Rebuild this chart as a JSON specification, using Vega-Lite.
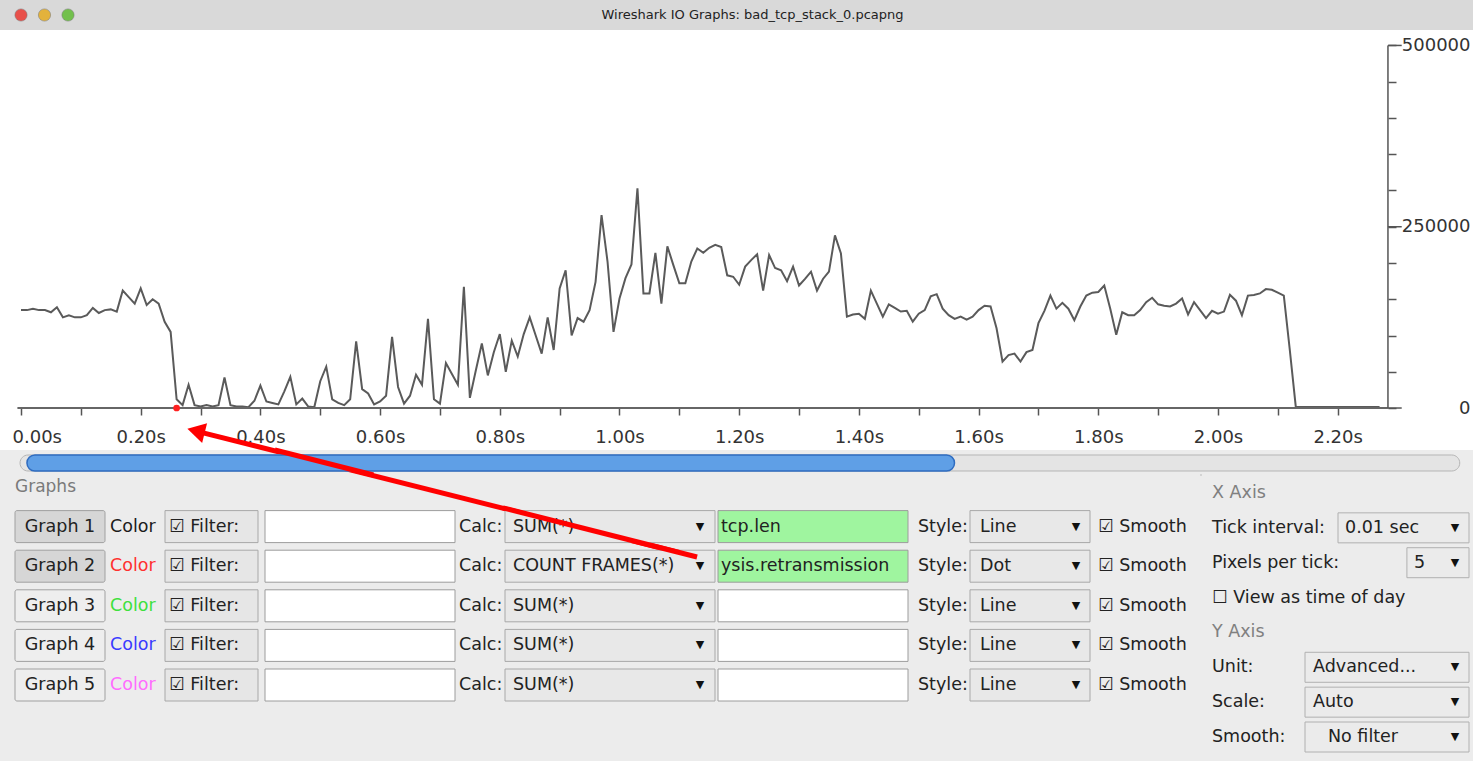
{
  "$schema": "https://vega.github.io/schema/vega-lite/v6.json",
  "background": "#ececec",
  "padding": 0,
  "bounds": "flush",
  "spacing": 0,
  "config": {"font": "DejaVu Sans", "view": {"stroke": null}},
  "datasets": {
    "io": [
      {"t":0.00,"bytes":135000},{"t":0.01,"bytes":135000},{"t":0.02,"bytes":137000},{"t":0.03,"bytes":135000},{"t":0.04,"bytes":135000},{"t":0.05,"bytes":132000},{"t":0.06,"bytes":139000},{"t":0.07,"bytes":125000},{"t":0.08,"bytes":128000},{"t":0.09,"bytes":125000},
      {"t":0.10,"bytes":125000},{"t":0.11,"bytes":128000},{"t":0.12,"bytes":138000},{"t":0.13,"bytes":131000},{"t":0.14,"bytes":135000},{"t":0.15,"bytes":136000},{"t":0.16,"bytes":133000},{"t":0.17,"bytes":162000},{"t":0.18,"bytes":153000},{"t":0.19,"bytes":144000},
      {"t":0.20,"bytes":165000},{"t":0.21,"bytes":142000},{"t":0.22,"bytes":150000},{"t":0.23,"bytes":144000},{"t":0.24,"bytes":119000},{"t":0.25,"bytes":105000},{"t":0.26,"bytes":12000},{"t":0.27,"bytes":4000},{"t":0.28,"bytes":32000},{"t":0.29,"bytes":4000},
      {"t":0.30,"bytes":2000},{"t":0.31,"bytes":4000},{"t":0.32,"bytes":2000},{"t":0.33,"bytes":4000},{"t":0.34,"bytes":42000},{"t":0.35,"bytes":4000},{"t":0.36,"bytes":2000},{"t":0.37,"bytes":2000},{"t":0.38,"bytes":1000},{"t":0.39,"bytes":10000},
      {"t":0.40,"bytes":31000},{"t":0.41,"bytes":9000},{"t":0.42,"bytes":7000},{"t":0.43,"bytes":5000},{"t":0.44,"bytes":23000},{"t":0.45,"bytes":43000},{"t":0.46,"bytes":5000},{"t":0.47,"bytes":13000},{"t":0.48,"bytes":2000},{"t":0.49,"bytes":1000},
      {"t":0.50,"bytes":37000},{"t":0.51,"bytes":57000},{"t":0.52,"bytes":12000},{"t":0.53,"bytes":7000},{"t":0.54,"bytes":4000},{"t":0.55,"bytes":12000},{"t":0.56,"bytes":92000},{"t":0.57,"bytes":26000},{"t":0.58,"bytes":20000},{"t":0.59,"bytes":5000},
      {"t":0.60,"bytes":9000},{"t":0.61,"bytes":17000},{"t":0.62,"bytes":98000},{"t":0.63,"bytes":29000},{"t":0.64,"bytes":6000},{"t":0.65,"bytes":17000},{"t":0.66,"bytes":46000},{"t":0.67,"bytes":32000},{"t":0.68,"bytes":123000},{"t":0.69,"bytes":12000},
      {"t":0.70,"bytes":6000},{"t":0.71,"bytes":62000},{"t":0.72,"bytes":47000},{"t":0.73,"bytes":32000},{"t":0.74,"bytes":167000},{"t":0.75,"bytes":14000},{"t":0.76,"bytes":52000},{"t":0.77,"bytes":89000},{"t":0.78,"bytes":45000},{"t":0.79,"bytes":77000},
      {"t":0.80,"bytes":102000},{"t":0.81,"bytes":50000},{"t":0.82,"bytes":93000},{"t":0.83,"bytes":71000},{"t":0.84,"bytes":102000},{"t":0.85,"bytes":125000},{"t":0.86,"bytes":100000},{"t":0.87,"bytes":75000},{"t":0.88,"bytes":125000},{"t":0.89,"bytes":80000},
      {"t":0.90,"bytes":165000},{"t":0.91,"bytes":190000},{"t":0.92,"bytes":100000},{"t":0.93,"bytes":124000},{"t":0.94,"bytes":119000},{"t":0.95,"bytes":135000},{"t":0.96,"bytes":174000},{"t":0.97,"bytes":266000},{"t":0.98,"bytes":202000},{"t":0.99,"bytes":105000},
      {"t":1.00,"bytes":151000},{"t":1.01,"bytes":179000},{"t":1.02,"bytes":198000},{"t":1.03,"bytes":303000},{"t":1.04,"bytes":158000},{"t":1.05,"bytes":158000},{"t":1.06,"bytes":214000},{"t":1.07,"bytes":144000},{"t":1.08,"bytes":223000},{"t":1.09,"bytes":197000},
      {"t":1.10,"bytes":172000},{"t":1.11,"bytes":172000},{"t":1.12,"bytes":202000},{"t":1.13,"bytes":220000},{"t":1.14,"bytes":214000},{"t":1.15,"bytes":221000},{"t":1.16,"bytes":225000},{"t":1.17,"bytes":222000},{"t":1.18,"bytes":183000},{"t":1.19,"bytes":181000},
      {"t":1.20,"bytes":170000},{"t":1.21,"bytes":195000},{"t":1.22,"bytes":204000},{"t":1.23,"bytes":212000},{"t":1.24,"bytes":162000},{"t":1.25,"bytes":211000},{"t":1.26,"bytes":193000},{"t":1.27,"bytes":190000},{"t":1.28,"bytes":175000},{"t":1.29,"bytes":195000},
      {"t":1.30,"bytes":169000},{"t":1.31,"bytes":178000},{"t":1.32,"bytes":188000},{"t":1.33,"bytes":162000},{"t":1.34,"bytes":178000},{"t":1.35,"bytes":188000},{"t":1.36,"bytes":238000},{"t":1.37,"bytes":213000},{"t":1.38,"bytes":126000},{"t":1.39,"bytes":129000},
      {"t":1.40,"bytes":130000},{"t":1.41,"bytes":123000},{"t":1.42,"bytes":162000},{"t":1.43,"bytes":144000},{"t":1.44,"bytes":126000},{"t":1.45,"bytes":143000},{"t":1.46,"bytes":138000},{"t":1.47,"bytes":133000},{"t":1.48,"bytes":134000},{"t":1.49,"bytes":119000},
      {"t":1.50,"bytes":130000},{"t":1.51,"bytes":135000},{"t":1.52,"bytes":154000},{"t":1.53,"bytes":157000},{"t":1.54,"bytes":137000},{"t":1.55,"bytes":128000},{"t":1.56,"bytes":123000},{"t":1.57,"bytes":126000},{"t":1.58,"bytes":122000},{"t":1.59,"bytes":126000},
      {"t":1.60,"bytes":135000},{"t":1.61,"bytes":141000},{"t":1.62,"bytes":140000},{"t":1.63,"bytes":110000},{"t":1.64,"bytes":64000},{"t":1.65,"bytes":73000},{"t":1.66,"bytes":75000},{"t":1.67,"bytes":64000},{"t":1.68,"bytes":77000},{"t":1.69,"bytes":80000},
      {"t":1.70,"bytes":117000},{"t":1.71,"bytes":134000},{"t":1.72,"bytes":155000},{"t":1.73,"bytes":137000},{"t":1.74,"bytes":145000},{"t":1.75,"bytes":137000},{"t":1.76,"bytes":121000},{"t":1.77,"bytes":140000},{"t":1.78,"bytes":155000},{"t":1.79,"bytes":159000},
      {"t":1.80,"bytes":160000},{"t":1.81,"bytes":169000},{"t":1.82,"bytes":137000},{"t":1.83,"bytes":101000},{"t":1.84,"bytes":132000},{"t":1.85,"bytes":128000},{"t":1.86,"bytes":128000},{"t":1.87,"bytes":135000},{"t":1.88,"bytes":146000},{"t":1.89,"bytes":152000},
      {"t":1.90,"bytes":143000},{"t":1.91,"bytes":141000},{"t":1.92,"bytes":140000},{"t":1.93,"bytes":144000},{"t":1.94,"bytes":151000},{"t":1.95,"bytes":129000},{"t":1.96,"bytes":146000},{"t":1.97,"bytes":135000},{"t":1.98,"bytes":124000},{"t":1.99,"bytes":134000},
      {"t":2.00,"bytes":130000},{"t":2.01,"bytes":133000},{"t":2.02,"bytes":156000},{"t":2.03,"bytes":148000},{"t":2.04,"bytes":128000},{"t":2.05,"bytes":155000},{"t":2.06,"bytes":156000},{"t":2.07,"bytes":158000},{"t":2.08,"bytes":164000},{"t":2.09,"bytes":163000},
      {"t":2.10,"bytes":159000},{"t":2.11,"bytes":155000},{"t":2.12,"bytes":80000},{"t":2.13,"bytes":1500},{"t":2.14,"bytes":1500},{"t":2.15,"bytes":1500},{"t":2.16,"bytes":1500},{"t":2.17,"bytes":1500},{"t":2.18,"bytes":1500},{"t":2.19,"bytes":1500},
      {"t":2.20,"bytes":1500},{"t":2.21,"bytes":1500},{"t":2.22,"bytes":1500},{"t":2.23,"bytes":1500},{"t":2.24,"bytes":1500},{"t":2.25,"bytes":1500},{"t":2.26,"bytes":1500},{"t":2.27,"bytes":1500}
    ],
    "retrans": [{"t": 0.26, "frames": 2}],
    "graphs": [
      {"graph": "Graph 1", "calc": "SUM(*)", "field": "tcp.len", "style": "Line"},
      {"graph": "Graph 2", "calc": "COUNT FRAMES(*)", "field": "ysis.retransmission", "style": "Dot"},
      {"graph": "Graph 3", "calc": "SUM(*)", "field": "", "style": "Line"},
      {"graph": "Graph 4", "calc": "SUM(*)", "field": "", "style": "Line"},
      {"graph": "Graph 5", "calc": "SUM(*)", "field": "", "style": "Line"}
    ],
    "axislabels": [
      {"key": "xhdr", "label": "X Axis"},
      {"key": "tick", "label": "Tick interval:"},
      {"key": "ppt", "label": "Pixels per tick:"},
      {"key": "tod", "label": "☐ View as time of day"},
      {"key": "yhdr", "label": "Y Axis"},
      {"key": "unit", "label": "Unit:"},
      {"key": "scale", "label": "Scale:"},
      {"key": "smooth", "label": "Smooth:"}
    ],
    "axisvalues": [
      {"key": "tick", "value": "0.01 sec"},
      {"key": "ppt", "value": "5"},
      {"key": "unit", "value": "Advanced..."},
      {"key": "scale", "value": "Auto"},
      {"key": "smooth", "value": "No filter"}
    ]
  },
  "vconcat": [
    {
      "width": 1473,
      "height": 30,
      "view": {"fill": "#d9d9d9", "stroke": null},
      "layer": [
        {
          "data": {"values": [{"title": "Wireshark IO Graphs: bad_tcp_stack_0.pcapng"}]},
          "mark": {"type": "text", "fontSize": 13, "color": "#222222", "dx": 16},
          "encoding": {"text": {"field": "title"}}
        },
        {
          "data": {"values": [{"light": "close"}, {"light": "minimize"}, {"light": "zoom"}]},
          "mark": {"type": "point", "filled": true, "size": 150, "opacity": 1, "stroke": "#777777", "strokeWidth": 0.5},
          "encoding": {
            "x": {"field": "light", "type": "nominal", "sort": null, "scale": {"type": "point", "range": [21, 68], "padding": 0}, "axis": null},
            "color": {"condition": [{"test": "datum.light === 'close'", "value": "#e8504a"}, {"test": "datum.light === 'minimize'", "value": "#e3b23c"}], "value": "#72c04c"}
          }
        }
      ]
    },
    {
      "width": 1473,
      "height": 420,
      "view": {"fill": "white", "stroke": null},
      "layer": [
        {
          "data": {"name": "io"},
          "mark": {"type": "line", "color": "#5a5a5a", "strokeWidth": 2},
          "encoding": {
            "x": {
              "field": "t", "type": "quantitative",
              "scale": {"domain": [-0.0351, 2.4261], "nice": false, "zero": false},
              "axis": {
                "orient": "bottom", "offset": -42, "domain": false, "grid": false, "title": null,
                "values": [0,0.05,0.1,0.15,0.2,0.25,0.3,0.35,0.4,0.45,0.5,0.55,0.6,0.65,0.7,0.75,0.8,0.85,0.9,0.95,1,1.05,1.1,1.15,1.2,1.25,1.3,1.35,1.4,1.45,1.5,1.55,1.6,1.65,1.7,1.75,1.8,1.85,1.9,1.95,2,2.05,2.1,2.15,2.2,2.25],
                "labelExpr": "(round(datum.value * 100) % 20 === 0) ? format(datum.value, '.2f') + 's' : ''",
                "labelFlush": 25, "labelFlushOffset": 9, "labelOverlap": false,
                "tickSize": 7, "tickColor": "#555555", "tickWidth": 1.5,
                "labelFontSize": 18, "labelColor": "#333333", "labelPadding": 13
              }
            },
            "y": {
              "field": "bytes", "type": "quantitative",
              "scale": {"domain": [-57900, 521300], "nice": false, "zero": false},
              "axis": {
                "orient": "right", "offset": -85, "domain": false, "grid": false, "title": null,
                "values": [0,50000,100000,150000,200000,250000,300000,350000,400000,450000,500000],
                "labelExpr": "datum.value % 250000 === 0 ? format(datum.value, 'd') : ''",
                "labelOverlap": false, "labelFlush": false,
                "tickSize": 8, "tickColor": "#555555", "tickWidth": 1.5,
                "labelAlign": "right", "labelPadding": 74,
                "labelFontSize": 18, "labelColor": "#333333"
              }
            }
          }
        },
        {
          "data": {"values": [{"axisline": "time"}]},
          "mark": {"type": "rule", "color": "#666666", "strokeWidth": 2},
          "encoding": {
            "x": {"datum": -0.006, "type": "quantitative"},
            "x2": {"datum": 2.284},
            "y": {"datum": 0, "type": "quantitative"}
          }
        },
        {
          "data": {"values": [{"axisline": "bytes"}]},
          "mark": {"type": "rule", "color": "#555555", "strokeWidth": 1.5},
          "encoding": {
            "x": {"datum": 2.284, "type": "quantitative"},
            "y": {"datum": 0, "type": "quantitative"},
            "y2": {"datum": 500000}
          }
        },
        {
          "data": {"values": [{"tick": 0}, {"tick": 250000}, {"tick": 500000}]},
          "mark": {"type": "rule", "color": "#555555", "strokeWidth": 1.5},
          "encoding": {
            "x": {"datum": 2.284, "type": "quantitative"},
            "x2": {"datum": 2.307},
            "y": {"field": "tick", "type": "quantitative"}
          }
        },
        {
          "data": {"name": "retrans"},
          "mark": {"type": "point", "filled": true, "color": "#ff2020", "size": 45, "opacity": 1},
          "encoding": {
            "x": {"field": "t", "type": "quantitative"},
            "y": {"field": "frames", "type": "quantitative"}
          }
        },
        {
          "data": {"name": "retrans"},
          "mark": {"type": "rule", "color": "#ff0000", "strokeWidth": 5},
          "encoding": {
            "x": {"datum": 1.1295, "type": "quantitative"},
            "y": {"datum": -205500, "type": "quantitative"},
            "x2": {"datum": 0.296},
            "y2": {"datum": -32500}
          }
        },
        {
          "data": {"name": "retrans"},
          "mark": {"type": "point", "shape": "triangle-up", "filled": true, "color": "#ff0000", "size": 420, "opacity": 1, "angle": 284},
          "encoding": {
            "x": {"datum": 0.2924, "type": "quantitative"},
            "y": {"datum": -31700, "type": "quantitative"}
          }
        }
      ]
    },
    {
      "width": 1473,
      "height": 25,
      "data": {"values": [{"widget": "scrollbar"}]},
      "layer": [
        {
          "mark": {"type": "bar", "fill": "#e4e4e4", "stroke": "#b5b5b5", "strokeWidth": 1, "cornerRadius": 8},
          "encoding": {
            "x": {"datum": 0.0136, "type": "quantitative", "scale": {"domain": [0, 1], "nice": false, "zero": false}, "axis": null},
            "x2": {"datum": 0.991},
            "y": {"datum": 0.16, "type": "quantitative", "scale": {"domain": [0, 1], "nice": false, "zero": false}, "axis": null},
            "y2": {"datum": 0.8}
          }
        },
        {
          "mark": {"type": "bar", "fill": "#5f9fe6", "stroke": "#2f6cc0", "strokeWidth": 1.5, "cornerRadius": 8},
          "encoding": {
            "x": {"datum": 0.0183, "type": "quantitative", "scale": {"domain": [0, 1], "nice": false, "zero": false}, "axis": null},
            "x2": {"datum": 0.648},
            "y": {"datum": 0.16, "type": "quantitative", "scale": {"domain": [0, 1], "nice": false, "zero": false}, "axis": null},
            "y2": {"datum": 0.8}
          }
        },
        {
          "mark": {"type": "rule", "color": "#ff0000", "strokeWidth": 5},
          "encoding": {
            "x": {"datum": 0.1866, "type": "quantitative", "scale": {"domain": [0, 1], "nice": false, "zero": false}, "axis": null},
            "y": {"datum": 1, "type": "quantitative", "scale": {"domain": [0, 1], "nice": false, "zero": false}, "axis": null},
            "x2": {"datum": 0.2535},
            "y2": {"datum": 0}
          }
        }
      ]
    },
    {
      "bounds": "flush",
      "spacing": 0,
      "hconcat": [
        {
          "width": 110, "height": 286,
          "data": {"name": "graphs"},
          "encoding": {"y": {"field": "graph", "type": "nominal", "scale": {"type": "point", "domain": ["hdr", "Graph 1", "Graph 2", "Graph 3", "Graph 4", "Graph 5"], "range": [12, 210], "padding": 0}, "axis": null}},
          "layer": [
            {
              "mark": {"type": "bar", "height": 32, "xOffset": 15, "x2Offset": -5, "stroke": "#a0a0a0", "strokeWidth": 1, "cornerRadius": 2},
              "encoding": {
                "x": {"datum": 0, "type": "quantitative", "scale": {"domain": [0, 1], "nice": false, "zero": false}, "axis": null},
                "x2": {"datum": 1},
                "fill": {"condition": {"test": "datum.field !== ''", "value": "#d6d6d6"}, "value": "#eeeeee"}
              }
            },
            {
              "mark": {"type": "text", "fontSize": 17.5, "color": "#222222", "dx": 5},
              "encoding": {
                "x": {"datum": 0.5, "type": "quantitative", "scale": {"domain": [0, 1], "nice": false, "zero": false}, "axis": null},
                "text": {"field": "graph"}
              }
            },
            {
              "data": {"values": [{"graph": "hdr", "label": "Graphs"}]},
              "mark": {"type": "text", "fontSize": 17, "color": "#7a7a7a", "align": "left", "dx": 15},
              "encoding": {
                "x": {"datum": 0, "type": "quantitative", "scale": {"domain": [0, 1], "nice": false, "zero": false}, "axis": null},
                "text": {"field": "label"}
              }
            }
          ]
        },
        {
          "width": 53, "height": 286,
          "data": {"name": "graphs"},
          "encoding": {"y": {"field": "graph", "type": "nominal", "scale": {"type": "point", "domain": ["hdr", "Graph 1", "Graph 2", "Graph 3", "Graph 4", "Graph 5"], "range": [12, 210], "padding": 0}, "axis": null}},
          "layer": [
            {
              "mark": {"type": "text", "fontSize": 17.5, "align": "left"},
              "encoding": {
                "x": {"datum": 0, "type": "quantitative", "scale": {"domain": [0, 1], "nice": false, "zero": false}, "axis": null},
                "text": {"value": "Color"},
                "color": {"field": "graph", "type": "nominal", "scale": {"domain": ["Graph 1", "Graph 2", "Graph 3", "Graph 4", "Graph 5"], "range": ["#1c1c1c", "#ff3030", "#3ee03e", "#3a3aff", "#ff6cff"]}, "legend": null}
              }
            }
          ]
        },
        {
          "width": 99, "height": 286,
          "data": {"name": "graphs"},
          "encoding": {"y": {"field": "graph", "type": "nominal", "scale": {"type": "point", "domain": ["hdr", "Graph 1", "Graph 2", "Graph 3", "Graph 4", "Graph 5"], "range": [12, 210], "padding": 0}, "axis": null}},
          "layer": [
            {
              "mark": {"type": "bar", "height": 32, "xOffset": 2, "x2Offset": -4, "fill": "#e6e6e6", "stroke": "#a8a8a8", "strokeWidth": 1},
              "encoding": {
                "x": {"datum": 0, "type": "quantitative", "scale": {"domain": [0, 1], "nice": false, "zero": false}, "axis": null},
                "x2": {"datum": 1}
              }
            },
            {
              "mark": {"type": "text", "fontSize": 17.5, "color": "#222222", "align": "left", "dx": 6},
              "encoding": {
                "x": {"datum": 0, "type": "quantitative", "scale": {"domain": [0, 1], "nice": false, "zero": false}, "axis": null},
                "text": {"value": "☑ Filter:"}
              }
            }
          ]
        },
        {
          "width": 195, "height": 286,
          "data": {"name": "graphs"},
          "encoding": {"y": {"field": "graph", "type": "nominal", "scale": {"type": "point", "domain": ["hdr", "Graph 1", "Graph 2", "Graph 3", "Graph 4", "Graph 5"], "range": [12, 210], "padding": 0}, "axis": null}},
          "layer": [
            {
              "mark": {"type": "bar", "height": 32, "xOffset": 3, "x2Offset": -2, "fill": "#ffffff", "stroke": "#9c9c9c", "strokeWidth": 1},
              "encoding": {
                "x": {"datum": 0, "type": "quantitative", "scale": {"domain": [0, 1], "nice": false, "zero": false}, "axis": null},
                "x2": {"datum": 1}
              }
            }
          ]
        },
        {
          "width": 46, "height": 286,
          "data": {"name": "graphs"},
          "encoding": {"y": {"field": "graph", "type": "nominal", "scale": {"type": "point", "domain": ["hdr", "Graph 1", "Graph 2", "Graph 3", "Graph 4", "Graph 5"], "range": [12, 210], "padding": 0}, "axis": null}},
          "layer": [
            {
              "mark": {"type": "text", "fontSize": 17.5, "color": "#222222", "align": "left", "dx": 2},
              "encoding": {
                "x": {"datum": 0, "type": "quantitative", "scale": {"domain": [0, 1], "nice": false, "zero": false}, "axis": null},
                "text": {"value": "Calc:"}
              }
            }
          ]
        },
        {
          "width": 213, "height": 286,
          "data": {"name": "graphs"},
          "resolve": {"scale": {"y": "independent"}},
          "layer": [
            {
              "mark": {"type": "bar", "height": 32, "xOffset": 2, "x2Offset": -1, "fill": "#e8e8e8", "stroke": "#a8a8a8", "strokeWidth": 1},
              "encoding": {
                "y": {"field": "graph", "type": "nominal", "scale": {"type": "point", "domain": ["hdr", "Graph 1", "Graph 2", "Graph 3", "Graph 4", "Graph 5"], "range": [12, 210], "padding": 0}, "axis": null},
                "x": {"datum": 0, "type": "quantitative", "scale": {"domain": [0, 1], "nice": false, "zero": false}, "axis": null},
                "x2": {"datum": 1}
              }
            },
            {
              "mark": {"type": "text", "fontSize": 17.5, "color": "#222222", "align": "left", "dx": 10},
              "encoding": {
                "y": {"field": "graph", "type": "nominal", "scale": {"type": "point", "domain": ["hdr", "Graph 1", "Graph 2", "Graph 3", "Graph 4", "Graph 5"], "range": [12, 210], "padding": 0}, "axis": null},
                "x": {"datum": 0, "type": "quantitative", "scale": {"domain": [0, 1], "nice": false, "zero": false}, "axis": null},
                "text": {"field": "calc"}
              }
            },
            {
              "mark": {"type": "text", "fontSize": 11, "color": "#111111", "dx": -16},
              "encoding": {
                "y": {"field": "graph", "type": "nominal", "scale": {"type": "point", "domain": ["hdr", "Graph 1", "Graph 2", "Graph 3", "Graph 4", "Graph 5"], "range": [12, 210], "padding": 0}, "axis": null},
                "x": {"datum": 1, "type": "quantitative", "scale": {"domain": [0, 1], "nice": false, "zero": false}, "axis": null},
                "text": {"value": "▼"}
              }
            },
            {
              "data": {"name": "retrans"},
              "mark": {"type": "rule", "color": "#ff0000", "strokeWidth": 5},
              "encoding": {
                "x": {"datum": 0.911, "type": "quantitative", "scale": {"domain": [0, 1], "nice": false, "zero": false}, "axis": null},
                "y": {"datum": 0.7133, "type": "quantitative", "scale": {"domain": [0, 1], "nice": false, "zero": false}, "axis": null},
                "x2": {"datum": 0},
                "y2": {"datum": 0.8853}
              }
            }
          ]
        },
        {
          "width": 194, "height": 286,
          "data": {"name": "graphs"},
          "encoding": {"y": {"field": "graph", "type": "nominal", "scale": {"type": "point", "domain": ["hdr", "Graph 1", "Graph 2", "Graph 3", "Graph 4", "Graph 5"], "range": [12, 210], "padding": 0}, "axis": null}},
          "layer": [
            {
              "mark": {"type": "bar", "height": 32, "xOffset": 2, "x2Offset": -2, "stroke": "#9c9c9c", "strokeWidth": 1},
              "encoding": {
                "x": {"datum": 0, "type": "quantitative", "scale": {"domain": [0, 1], "nice": false, "zero": false}, "axis": null},
                "x2": {"datum": 1},
                "fill": {"condition": {"test": "datum.field !== ''", "value": "#9ff59f"}, "value": "#ffffff"}
              }
            },
            {
              "mark": {"type": "text", "fontSize": 17.5, "color": "#222222", "align": "left", "dx": 5},
              "encoding": {
                "x": {"datum": 0, "type": "quantitative", "scale": {"domain": [0, 1], "nice": false, "zero": false}, "axis": null},
                "text": {"field": "field"}
              }
            }
          ]
        },
        {
          "width": 58, "height": 286,
          "data": {"name": "graphs"},
          "encoding": {"y": {"field": "graph", "type": "nominal", "scale": {"type": "point", "domain": ["hdr", "Graph 1", "Graph 2", "Graph 3", "Graph 4", "Graph 5"], "range": [12, 210], "padding": 0}, "axis": null}},
          "layer": [
            {
              "mark": {"type": "text", "fontSize": 17.5, "color": "#222222", "align": "left", "dx": 8},
              "encoding": {
                "x": {"datum": 0, "type": "quantitative", "scale": {"domain": [0, 1], "nice": false, "zero": false}, "axis": null},
                "text": {"value": "Style:"}
              }
            }
          ]
        },
        {
          "width": 125, "height": 286,
          "data": {"name": "graphs"},
          "encoding": {"y": {"field": "graph", "type": "nominal", "scale": {"type": "point", "domain": ["hdr", "Graph 1", "Graph 2", "Graph 3", "Graph 4", "Graph 5"], "range": [12, 210], "padding": 0}, "axis": null}},
          "layer": [
            {
              "mark": {"type": "bar", "height": 32, "xOffset": 2, "x2Offset": -3, "fill": "#e8e8e8", "stroke": "#a8a8a8", "strokeWidth": 1},
              "encoding": {
                "x": {"datum": 0, "type": "quantitative", "scale": {"domain": [0, 1], "nice": false, "zero": false}, "axis": null},
                "x2": {"datum": 1}
              }
            },
            {
              "mark": {"type": "text", "fontSize": 17.5, "color": "#222222", "align": "left", "dx": 12},
              "encoding": {
                "x": {"datum": 0, "type": "quantitative", "scale": {"domain": [0, 1], "nice": false, "zero": false}, "axis": null},
                "text": {"field": "style"}
              }
            },
            {
              "mark": {"type": "text", "fontSize": 11, "color": "#111111", "dx": -17},
              "encoding": {
                "x": {"datum": 1, "type": "quantitative", "scale": {"domain": [0, 1], "nice": false, "zero": false}, "axis": null},
                "text": {"value": "▼"}
              }
            }
          ]
        },
        {
          "width": 107, "height": 286,
          "data": {"name": "graphs"},
          "encoding": {"y": {"field": "graph", "type": "nominal", "scale": {"type": "point", "domain": ["hdr", "Graph 1", "Graph 2", "Graph 3", "Graph 4", "Graph 5"], "range": [12, 210], "padding": 0}, "axis": null}},
          "layer": [
            {
              "mark": {"type": "text", "fontSize": 17.5, "color": "#222222", "align": "left", "dx": 5},
              "encoding": {
                "x": {"datum": 0, "type": "quantitative", "scale": {"domain": [0, 1], "nice": false, "zero": false}, "axis": null},
                "text": {"value": "☑ Smooth"}
              }
            }
          ]
        },
        {
          "width": 100, "height": 286,
          "data": {"name": "axislabels"},
          "encoding": {"y": {"field": "key", "type": "nominal", "scale": {"type": "point", "domain": ["xhdr", "tick", "ppt", "tod", "yhdr", "unit", "scale", "smooth"], "range": [18, 262], "padding": 0}, "axis": null}},
          "layer": [
            {
              "data": {"values": [{"divider": "axes"}]},
              "mark": {"type": "rule", "color": "#cccccc", "strokeWidth": 1.5},
              "encoding": {
                "x": {"datum": 0.02, "type": "quantitative", "scale": {"domain": [0, 1], "nice": false, "zero": false}, "axis": null}
              }
            },
            {
              "mark": {"type": "text", "fontSize": 17.5, "align": "left", "dx": 12},
              "encoding": {
                "x": {"datum": 0, "type": "quantitative", "scale": {"domain": [0, 1], "nice": false, "zero": false}, "axis": null},
                "text": {"field": "label"},
                "color": {"condition": {"test": "datum.key === 'xhdr' || datum.key === 'yhdr'", "value": "#808080"}, "value": "#222222"}
              }
            }
          ]
        },
        {
          "width": 173, "height": 286,
          "data": {"name": "axisvalues"},
          "encoding": {"y": {"field": "key", "type": "nominal", "scale": {"type": "point", "domain": ["xhdr", "tick", "ppt", "tod", "yhdr", "unit", "scale", "smooth"], "range": [18, 262], "padding": 0}, "axis": null}},
          "layer": [
            {
              "transform": [{"filter": "datum.key === 'unit' || datum.key === 'scale' || datum.key === 'smooth'"}],
              "mark": {"type": "bar", "height": 30, "xOffset": 5, "x2Offset": -4, "fill": "#ebebeb", "stroke": "#b0b0b0", "strokeWidth": 1},
              "encoding": {
                "x": {"datum": 0, "type": "quantitative", "scale": {"domain": [0, 1], "nice": false, "zero": false}, "axis": null},
                "x2": {"datum": 1}
              }
            },
            {
              "transform": [{"filter": "datum.key === 'tick'"}],
              "mark": {"type": "bar", "height": 30, "xOffset": 38, "x2Offset": -4, "fill": "#ebebeb", "stroke": "#b0b0b0", "strokeWidth": 1},
              "encoding": {
                "x": {"datum": 0, "type": "quantitative", "scale": {"domain": [0, 1], "nice": false, "zero": false}, "axis": null},
                "x2": {"datum": 1}
              }
            },
            {
              "transform": [{"filter": "datum.key === 'ppt'"}],
              "mark": {"type": "bar", "height": 30, "x2Offset": -4, "fill": "#ebebeb", "stroke": "#b0b0b0", "strokeWidth": 1},
              "encoding": {
                "x": {"datum": 0.618, "type": "quantitative", "scale": {"domain": [0, 1], "nice": false, "zero": false}, "axis": null},
                "x2": {"datum": 1}
              }
            },
            {
              "transform": [{"filter": "datum.key === 'tick'"}],
              "mark": {"type": "text", "fontSize": 17.5, "color": "#222222", "align": "left", "dx": 45},
              "encoding": {
                "x": {"datum": 0, "type": "quantitative", "scale": {"domain": [0, 1], "nice": false, "zero": false}, "axis": null},
                "text": {"field": "value"}
              }
            },
            {
              "transform": [{"filter": "datum.key === 'unit' || datum.key === 'scale'"}],
              "mark": {"type": "text", "fontSize": 17.5, "color": "#222222", "align": "left", "dx": 13},
              "encoding": {
                "x": {"datum": 0, "type": "quantitative", "scale": {"domain": [0, 1], "nice": false, "zero": false}, "axis": null},
                "text": {"field": "value"}
              }
            },
            {
              "transform": [{"filter": "datum.key === 'smooth'"}],
              "mark": {"type": "text", "fontSize": 17.5, "color": "#222222", "align": "left", "dx": 28},
              "encoding": {
                "x": {"datum": 0, "type": "quantitative", "scale": {"domain": [0, 1], "nice": false, "zero": false}, "axis": null},
                "text": {"field": "value"}
              }
            },
            {
              "transform": [{"filter": "datum.key === 'ppt'"}],
              "mark": {"type": "text", "fontSize": 17.5, "color": "#222222", "align": "left", "dx": 7},
              "encoding": {
                "x": {"datum": 0.618, "type": "quantitative", "scale": {"domain": [0, 1], "nice": false, "zero": false}, "axis": null},
                "text": {"field": "value"}
              }
            },
            {
              "mark": {"type": "text", "fontSize": 11, "color": "#111111", "dx": -18},
              "encoding": {
                "x": {"datum": 1, "type": "quantitative", "scale": {"domain": [0, 1], "nice": false, "zero": false}, "axis": null},
                "text": {"value": "▼"}
              }
            }
          ]
        }
      ]
    }
  ]
}
